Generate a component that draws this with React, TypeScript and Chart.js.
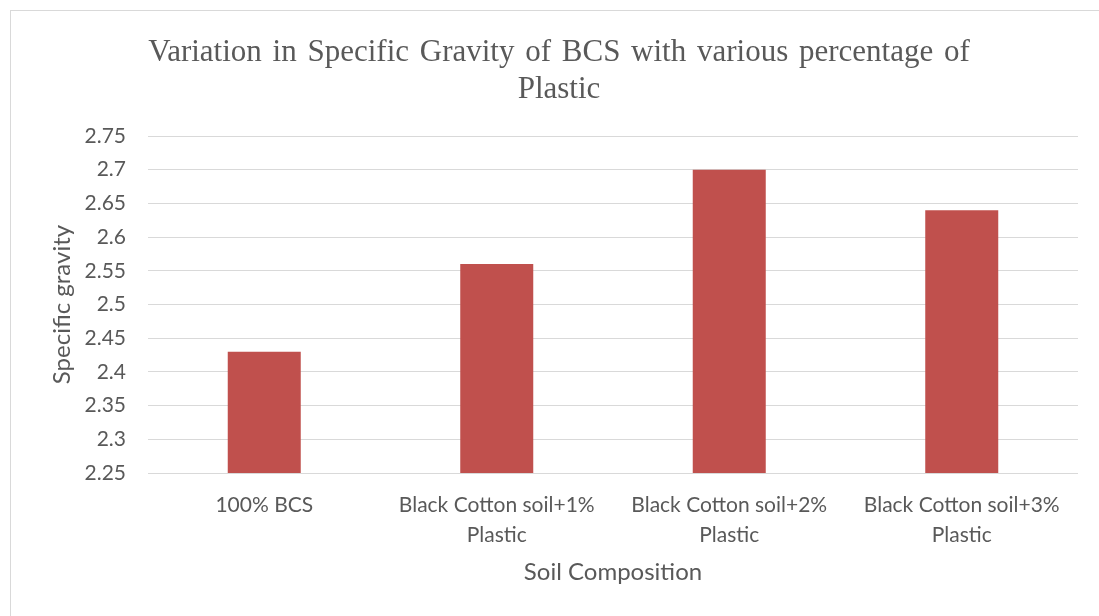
import React, { useEffect, useRef } from "react";
import { Chart, registerables } from "chart.js";

Chart.register(...registerables);

const categories: string[][] = [
  ["100% BCS"],
  ["Black Cotton soil+1%", "Plastic"],
  ["Black Cotton soil+2%", "Plastic"],
  ["Black Cotton soil+3%", "Plastic"],
];
const specificGravity: number[] = [2.43, 2.56, 2.7, 2.64];
const titleLines: string[] = [
  "Variation in Specific Gravity of BCS with various percentage of",
  "Plastic",
];
const yAxisTitle = "Specific gravity";
const xAxisTitle = "Soil Composition";
const yMin = 2.25;
const yMax = 2.75;
const yStep = 0.05;

const SANS = "Lato, 'Open Sans', sans-serif";

const titleWordSpacing = {
  id: "titleWordSpacing",
  afterLayout(chart: any) {
    const tb = chart.titleBlock;
    if (tb && !tb._wsPatched) {
      const orig = tb.draw.bind(tb);
      tb.draw = (...args: any[]) => {
        const ctx = chart.ctx as any;
        const prev = ctx.wordSpacing;
        ctx.wordSpacing = "3px";
        orig(...args);
        ctx.wordSpacing = prev || "0px";
      };
      tb._wsPatched = true;
    }
  },
};

export default function App() {
  const ref = useRef<HTMLCanvasElement | null>(null);

  useEffect(() => {
    if (!ref.current) return;
    const chart = new Chart(ref.current, {
      type: "bar",
      data: {
        labels: categories,
        datasets: [
          {
            label: "Specific gravity",
            data: specificGravity,
            backgroundColor: "#C0504D",
            borderWidth: 0,
            categoryPercentage: 1,
            barPercentage: 0.314,
          },
        ],
      },
      plugins: [titleWordSpacing],
      options: {
        responsive: false,
        animation: false,
        layout: { padding: { left: 40, right: 21, top: 0, bottom: 0 } },
        plugins: {
          legend: { display: false },
          tooltip: { enabled: false },
          title: {
            display: true,
            text: titleLines,
            color: "#595959",
            font: { family: "'Liberation Serif', 'Times New Roman', serif", size: 31, weight: "normal", lineHeight: 37 / 31 },
            padding: { top: 34, bottom: 28 },
          },
        },
        scales: {
          x: {
            afterFit: (scale: any) => {
              scale.height = 143;
            },
            grid: { display: false, drawTicks: false },
            border: { display: false },
            ticks: {
              color: "#595959",
              font: { family: SANS, size: 21, lineHeight: 30 / 21 },
              padding: 17,
              maxRotation: 0,
              autoSkip: false,
            },
            title: {
              display: true,
              text: xAxisTitle,
              color: "#595959",
              font: { family: SANS, size: 24, lineHeight: 1.2 },
              padding: { top: 4, bottom: 29 },
            },
          },
          y: {
            min: yMin,
            max: yMax,
            afterFit: (scale: any) => {
              scale.width = 108;
            },
            grid: { color: "#d9d9d9", lineWidth: 1, drawTicks: false },
            border: { display: false },
            ticks: {
              stepSize: yStep,
              color: "#595959",
              font: { family: SANS, size: 21 },
              padding: 22,
              callback: (v: any) => String(Math.round(Number(v) * 100) / 100),
            },
            title: {
              display: true,
              text: yAxisTitle,
              color: "#595959",
              font: { family: SANS, size: 24, lineHeight: 1.2 },
              padding: { top: 8, bottom: 0 },
            },
          },
        },
      },
    });
    return () => chart.destroy();
  }, []);

  return (
    <div
      style={{
        position: "fixed",
        left: 0,
        top: 0,
        width: 1099,
        height: 616,
        overflow: "hidden",
        background: "#ffffff",
      }}
    >
      <div
        style={{
          position: "absolute",
          left: 10,
          top: 10,
          width: 1200,
          height: 700,
          border: "1px solid #d9d9d9",
          boxSizing: "border-box",
        }}
      />
      <canvas
        ref={ref}
        width={1099}
        height={616}
        style={{ position: "absolute", left: 0, top: 0, display: "block" }}
      />
    </div>
  );
}
